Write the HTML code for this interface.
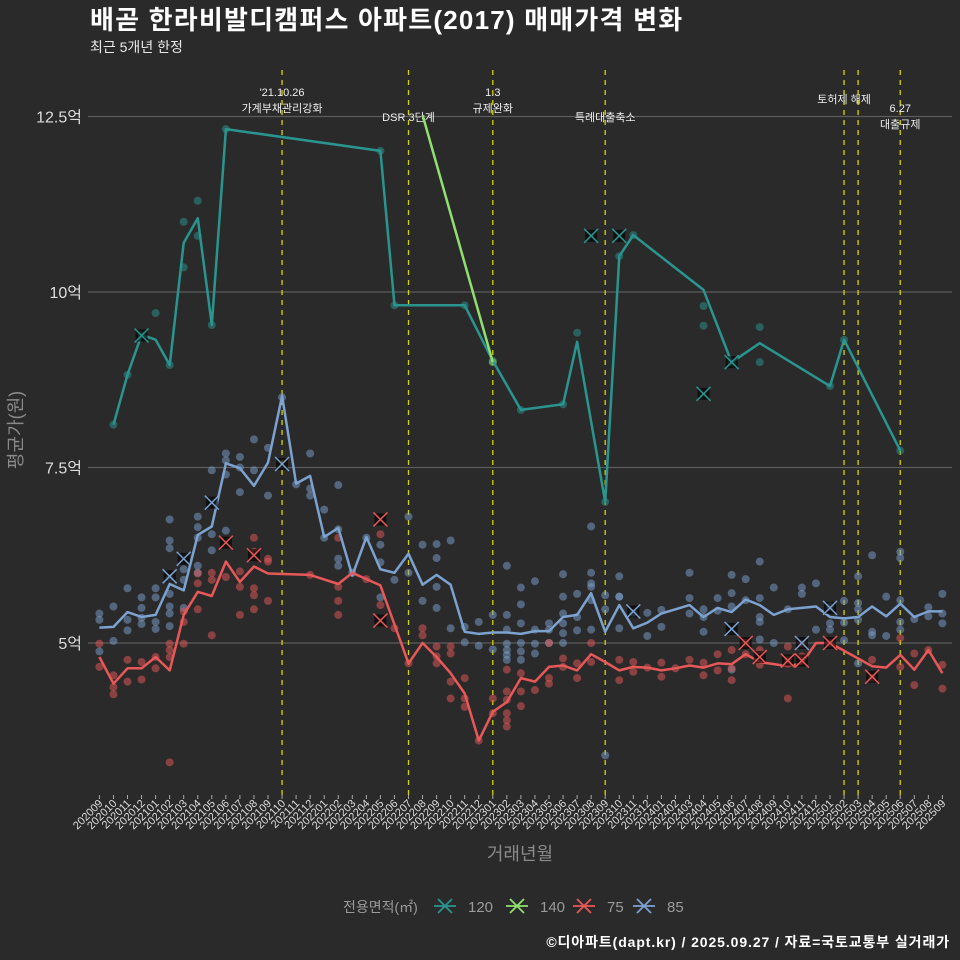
<!DOCTYPE html>
<html><head><meta charset="utf-8">
<style>
html,body{margin:0;padding:0;background:#2b2a2b;}
svg{display:block;font-family:"Liberation Sans","Noto Sans CJK KR",sans-serif;}
</style></head>
<body>
<svg id="chart" width="960" height="960" viewBox="0 0 960 960" xmlns="http://www.w3.org/2000/svg">
<rect x="0" y="0" width="960" height="960" fill="#2b2a2b"/>
<text x="90" y="29" fill="#ffffff" font-size="26" font-weight="bold" letter-spacing="1.2">배곧 한라비발디캠퍼스 아파트(2017) 매매가격 변화</text>
<text x="90" y="52" fill="#e8e8e8" font-size="14">최근 5개년 한정</text>
<g id="grid"></g>
<g id="vlines"></g>
<g id="marks"></g>
<g id="axes"></g>
<text transform="translate(22,430) rotate(-90)" text-anchor="middle" fill="#8a8a8a" font-size="18">평균가(원)</text>
<text x="520" y="860" text-anchor="middle" fill="#8a8a8a" font-size="18">거래년월</text>
<g id="legend"></g>
<text x="950" y="947" text-anchor="end" fill="#ffffff" font-size="14" font-weight="bold" letter-spacing="0.9">©디아파트(dapt.kr) / 2025.09.27 / 자료=국토교통부 실거래가</text>
</svg>
<script>
const months = [];
for (let y = 2020, m = 9; months.length < 61; m++) { if (m > 12) { m = 1; y++; } months.push(String(y) + String(m).padStart(2, '0')); }
const yTicks = [5, 7.5, 10, 12.5];
const yTickLabels = ['5억', '7.5억', '10억', '12.5억'];
const seriesNames = ['120', '140', '75', '85'];
const seriesColors = ['#2a958f', '#90e070', '#e85858', '#7ca2d0'];
const line120 = [[1,8.11],[2,8.82],[3,9.39],[4,9.32],[5,8.96],[6,10.70],[7,11.05],[8,9.53],[9,12.32],[20,12.01],[21,9.81],[26,9.81],[28,9.02],[30,8.32],[33,8.40],[34,9.29],[36,7.01],[37,10.51],[38,10.81],[43,10.03],[45,9.0],[47,9.27],[52,8.66],[53,9.32],[57,7.74]];
const line140 = [[23,12.52],[28,9.0]];
const line75 = [[0,4.80],[1,4.42],[2,4.64],[3,4.64],[4,4.80],[5,4.61],[6,5.40],[7,5.73],[8,5.67],[9,6.16],[10,5.87],[11,6.09],[12,5.99],[15,5.97],[17,5.84],[18,6.0],[19,5.91],[20,5.82],[22,4.71],[23,5.0],[24,4.80],[25,4.57],[26,4.28],[27,3.61],[28,4.02],[29,4.16],[30,4.50],[31,4.45],[32,4.66],[33,4.68],[34,4.61],[35,4.84],[36,4.73],[37,4.61],[38,4.66],[39,4.65],[40,4.61],[41,4.64],[42,4.68],[43,4.65],[44,4.71],[45,4.70],[46,4.84],[47,4.73],[48,4.70],[49,4.67],[50,4.71],[51,5.0],[52,5.0],[55,4.67],[56,4.65],[57,4.83],[58,4.62],[59,4.9],[60,4.57]];
const line85 = [[0,5.22],[1,5.23],[2,5.44],[3,5.37],[4,5.40],[5,5.84],[6,5.75],[7,6.54],[8,6.66],[9,7.56],[10,7.49],[11,7.24],[12,7.57],[13,8.52],[14,7.27],[15,7.38],[16,6.51],[17,6.64],[18,5.96],[19,6.51],[20,6.05],[21,6.0],[22,6.27],[23,5.83],[24,5.97],[25,5.83],[26,5.16],[27,5.13],[28,5.15],[29,5.15],[30,5.13],[31,5.17],[32,5.17],[33,5.37],[34,5.40],[35,5.71],[36,5.16],[37,5.54],[38,5.21],[39,5.29],[40,5.42],[41,5.48],[42,5.54],[43,5.37],[44,5.5],[45,5.44],[46,5.62],[47,5.54],[48,5.40],[49,5.48],[50,5.50],[51,5.52],[52,5.37],[53,5.35],[54,5.37],[55,5.52],[56,5.38],[57,5.56],[58,5.37],[59,5.45],[60,5.45]];
const pts120 = [[1,8.11],[2,8.82],[3,9.39],[4,9.7],[5,8.96],[6,10.35],[6,11.0],[7,11.3],[7,10.8],[8,9.53],[9,12.32],[20,12.01],[21,9.81],[26,9.81],[28,9.02],[30,8.32],[33,8.40],[34,9.42],[36,7.01],[37,10.51],[38,10.81],[43,9.8],[43,9.52],[45,9.0],[47,9.5],[47,9.0],[52,8.66],[53,9.32],[57,7.74]];
const pts140 = [[28,9.0]];
const pts75 = [[0,4.99],[0,4.66],[1,4.54],[1,4.37],[1,4.27],[2,4.76],[2,4.45],[3,4.73],[3,4.48],[4,4.80],[4,4.64],[5,4.99],[5,4.90],[5,4.80],[5,3.30],[6,5.45],[6,5.30],[6,4.99],[7,5.99],[7,5.85],[7,5.48],[8,6.0],[8,5.90],[8,5.11],[9,5.94],[10,6.02],[10,5.80],[10,5.40],[11,6.50],[11,6.30],[11,5.78],[11,5.68],[11,5.48],[12,6.20],[12,6.16],[12,5.6],[15,5.97],[17,6.5],[17,5.8],[17,5.6],[17,5.4],[19,5.91],[20,6.55],[20,5.54],[21,5.21],[22,4.71],[23,5.21],[23,5.11],[24,4.71],[24,4.95],[24,4.81],[25,4.95],[25,4.85],[25,4.45],[25,4.21],[26,4.50],[26,4.21],[26,4.09],[27,3.61],[28,4.21],[28,4.0],[29,4.62],[29,4.31],[29,4.19],[29,4.0],[29,3.90],[29,3.81],[30,4.57],[30,4.31],[30,4.10],[31,4.33],[32,5.0],[32,4.50],[32,4.42],[33,4.78],[33,4.66],[34,4.71],[34,4.50],[35,5.0],[35,4.73],[37,4.76],[37,4.47],[38,4.73],[38,4.59],[39,4.65],[40,4.72],[40,4.52],[41,4.64],[42,4.76],[43,4.72],[43,4.54],[44,4.84],[44,4.61],[45,4.90],[45,4.64],[45,4.47],[46,5.0],[46,4.84],[47,4.90],[47,4.69],[49,4.95],[49,4.76],[49,4.21],[50,4.99],[50,4.81],[52,5.0],[55,4.76],[55,4.50],[57,5.07],[57,4.66],[58,4.85],[58,4.40],[59,4.90],[60,4.69],[60,4.35]];
const pts85 = [[0,5.42],[0,5.33],[0,4.88],[1,5.52],[1,5.03],[2,5.78],[2,5.33],[2,5.18],[3,5.65],[3,5.5],[3,5.36],[3,5.27],[4,5.78],[4,5.65],[4,5.3],[4,5.2],[5,6.76],[5,6.46],[5,6.35],[5,5.92],[5,5.7],[5,5.52],[5,5.42],[5,5.24],[6,6.05],[6,5.9],[6,5.5],[7,6.5],[7,6.8],[7,6.65],[7,6.1],[7,6.0],[8,7.46],[8,6.55],[8,6.32],[9,7.6],[9,7.7],[9,7.4],[9,6.6],[10,7.65],[10,7.5],[10,7.15],[11,7.9],[11,7.46],[12,7.78],[12,7.1],[13,8.5],[14,7.26],[15,7.7],[15,7.2],[15,7.1],[16,6.5],[16,6.9],[17,7.25],[17,6.62],[17,6.2],[17,6.1],[18,6.0],[19,6.5],[20,6.4],[20,6.15],[20,5.65],[21,5.9],[22,6.8],[22,6.0],[23,6.4],[23,5.6],[24,6.41],[24,6.21],[24,5.80],[24,5.50],[25,6.46],[25,5.21],[26,5.23],[26,5.01],[27,5.30],[27,4.96],[28,5.40],[28,4.91],[29,6.10],[29,5.40],[29,5.19],[29,4.99],[29,4.90],[29,4.83],[29,4.76],[30,5.79],[30,5.55],[30,5.28],[30,5.0],[30,4.88],[30,4.76],[31,5.88],[31,5.19],[31,4.99],[31,4.85],[32,5.28],[32,5.19],[32,5.0],[33,5.98],[33,5.66],[33,5.42],[33,5.28],[33,5.14],[33,5.0],[34,5.70],[34,5.37],[34,5.18],[35,6.66],[35,6.0],[35,5.85],[35,5.80],[35,5.61],[35,5.19],[36,5.68],[36,5.48],[36,3.40],[37,5.95],[37,5.66],[37,5.66],[37,5.21],[38,5.43],[39,5.43],[39,5.10],[40,5.47],[40,5.23],[42,6.0],[42,5.64],[42,5.42],[43,5.48],[43,5.37],[43,5.16],[44,5.64],[44,5.46],[45,5.97],[45,5.71],[45,5.52],[45,4.62],[46,5.91],[46,5.61],[47,6.16],[47,5.64],[47,5.37],[47,5.30],[47,5.05],[48,5.79],[48,5.0],[49,5.48],[50,5.79],[50,5.70],[51,5.85],[51,5.19],[52,5.52],[52,5.28],[52,5.19],[53,5.60],[53,5.29],[53,5.04],[54,5.95],[54,5.57],[54,5.48],[54,5.33],[54,4.71],[55,6.25],[55,5.16],[55,5.11],[56,5.66],[56,5.10],[57,6.30],[57,6.21],[57,5.61],[57,5.30],[57,5.19],[58,5.34],[59,5.51],[59,5.38],[60,5.70],[60,5.42],[60,5.28]];
const cross120 = [[3,9.38],[35,10.8],[37,10.8],[43,8.55],[45,9.0]];
const cross75 = [[9,6.43],[11,6.25],[20,6.76],[20,5.32],[46,5.0],[47,4.8],[49,4.75],[50,4.75],[52,5.0],[55,4.52]];
const cross85 = [[5,5.95],[6,6.2],[8,7.0],[13,7.55],[38,5.45],[45,5.2],[50,5.0],[52,5.5]];
const eventMonths = [13, 22, 28, 36, 53, 54, 57];
const eventLabels = [["'21.10.26","가계부채관리강화"],["DSR 3단계"],["1.3","규제완화"],["특례대출축소"],["토허제 해제"],[],["6.27","대출규제"]];

const NS = 'http://www.w3.org/2000/svg';
function xs(i){ return 99.4 + i * 14.05; }
function ys(v){ return 643 - (v - 5) * 70.2; }
function mk(tag, attrs, parent){ const e = document.createElementNS(NS, tag); for (const k in attrs) e.setAttribute(k, attrs[k]); parent.appendChild(e); return e; }

const grid = document.getElementById('grid');
const axes = document.getElementById('axes');
yTicks.forEach((t, k) => {
  const l = mk('line', {x1: 88, x2: 952, y1: ys(t), y2: ys(t), stroke: '#5c5c5c', 'stroke-width': 1.2}, grid);
  
  
  const tx = mk('text', {x: 82, y: ys(t) + 6, 'text-anchor': 'end', fill: '#dddddd', 'font-size': 16}, axes);
  tx.textContent = yTickLabels[k];
  
  
});
months.forEach((m, i) => {
  const tk = mk('line', {x1: xs(i), x2: xs(i), y1: 795, y2: 799, stroke: '#aaaaaa', 'stroke-width': 1}, axes);
  
  
  const tx = mk('text', {x: xs(i) + 4, y: 804, 'text-anchor': 'end', fill: '#dddddd', 'font-size': 11, transform: `rotate(-45 ${xs(i) + 4} 804)`}, axes);
  tx.textContent = m;
  
  
});
const vl = document.getElementById('vlines');
eventMonths.forEach((i, k) => {
  const l = mk('line', {x1: xs(i), x2: xs(i), y1: 70, y2: 795, stroke: '#d4d400', 'stroke-width': 1.3, 'stroke-dasharray': '5,5'}, vl);
  
  
  const lines = eventLabels[k];
  let baseY = lines.length === 2 ? 96 : 121;
  if (k === 4) baseY = 103;
  if (k === 6) baseY = 112;
  lines.forEach((s, j) => {
    const tx = mk('text', {x: xs(i), y: baseY + j * 16, 'text-anchor': 'middle', fill: '#eeeeee', 'font-size': 11}, vl);
    tx.textContent = s;
    
    
  });
});
const marks = document.getElementById('marks');
function dots(arr, color, name){
  arr.forEach(p => {
    const c = mk('circle', {cx: xs(p[0]), cy: ys(p[1]), r: 4, fill: color, 'fill-opacity': 0.5}, marks);
    
    
  });
}
function line(arr, color, name){
  const d = arr.map((p, k) => (k ? 'L' : 'M') + xs(p[0]).toFixed(1) + ',' + ys(p[1]).toFixed(1)).join('');
  const pth = mk('path', {d: d, fill: 'none', stroke: color, 'stroke-width': 2.5, 'stroke-linejoin': 'round'}, marks);
  
  
}
function crosses(arr, color, name){
  arr.forEach(p => {
    const x = xs(p[0]), y = ys(p[1]);
    const r = mk('rect', {x: x - 6, y: y - 6, width: 12, height: 12, fill: '#000', 'fill-opacity': 0.6}, marks);
    
    
    const c = mk('path', {d: `M${x-7},${y-7}L${x+7},${y+7}M${x-7},${y+7}L${x+7},${y-7}`, stroke: color, 'stroke-width': 1.5}, marks);
    
    
  });
}
dots(pts85, seriesColors[3], 'point-85');
dots(pts75, seriesColors[2], 'point-75');
dots(pts120, seriesColors[0], 'point-120');
dots(pts140, seriesColors[1], 'point-140');
line(line120, seriesColors[0], 'line-120');
line(line140, seriesColors[1], 'line-140');
line(line85, seriesColors[3], 'line-85');
line(line75, seriesColors[2], 'line-75');
crosses(cross120, seriesColors[0], 'cross-120');
crosses(cross85, seriesColors[3], 'cross-85');
crosses(cross75, seriesColors[2], 'cross-75');

const lg = document.getElementById('legend');
const lt = mk('text', {x: 343, y: 912, fill: '#9a9a9a', 'font-size': 14}, lg);
lt.textContent = '전용면적(㎡)';


const lx = [445, 517, 584, 644];
seriesNames.forEach((n, k) => {
  const x = lx[k], y = 906;
  const p = mk('path', {d: `M${x-11},${y}L${x+11},${y}M${x-7},${y-7}L${x+7},${y+7}M${x-7},${y+7}L${x+7},${y-7}`, stroke: seriesColors[k], 'stroke-width': 1.8}, lg);
  
  
  const t = mk('text', {x: x + 23, y: 912, fill: '#9a9a9a', 'font-size': 15}, lg);
  t.textContent = n;
  
  
});
</script>
</body></html>
